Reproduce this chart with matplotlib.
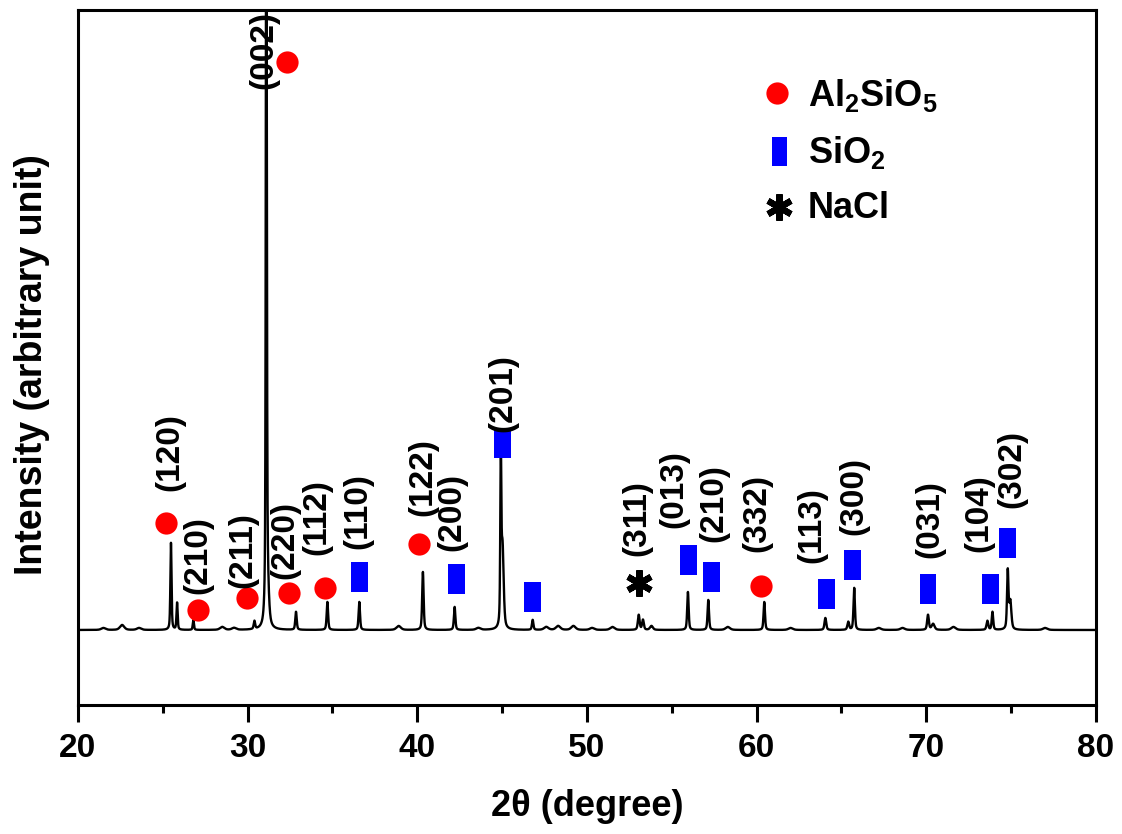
import numpy as np
import matplotlib
matplotlib.use('Agg')
import matplotlib.pyplot as plt
from matplotlib.patches import Rectangle
from matplotlib.ticker import MultipleLocator

plt.rcParams['font.family'] = ['Liberation Sans', 'DejaVu Sans']
plt.rcParams['font.weight'] = 'bold'
plt.rcParams['mathtext.fontset'] = 'custom'
plt.rcParams['mathtext.rm'] = 'Liberation Sans:bold'
plt.rcParams['mathtext.it'] = 'Liberation Sans:bold'
plt.rcParams['mathtext.bf'] = 'Liberation Sans:bold'

# ---- diffraction peaks (2theta, height above baseline, fwhm) ----
peak_pos = [21.5, 22.6, 23.6, 25.48, 25.84, 26.8, 28.5, 29.2, 30.4, 31.1, 31.15,
            32.85, 34.7, 36.58, 38.9, 40.33, 42.2, 43.6, 44.92, 45.02, 46.8,
            47.6, 48.3, 49.2, 50.3, 51.5, 53.05, 53.3, 53.8, 55.95, 57.15,
            58.3, 60.45, 62.0, 64.05, 65.4, 65.75, 67.2, 68.6, 70.1, 70.4,
            71.6, 73.6, 73.9, 74.8, 74.95, 77.0]
peak_height = [2, 5, 2, 87, 27, 10, 3, 2, 8, 800, 40,
               18, 28, 28, 4, 58, 23, 2, 163, 82, 10,
               3, 4, 4, 2, 3, 15, 10, 4, 38, 30,
               3, 28, 2, 12, 8, 42, 2, 2, 15, 6,
               3, 9, 18, 58, 28, 2]
peak_fwhm = [0.3, 0.3, 0.3, 0.08, 0.08, 0.08, 0.3, 0.3, 0.1, 0.07, 0.2,
             0.1, 0.1, 0.1, 0.3, 0.1, 0.1, 0.3, 0.07, 0.16, 0.1,
             0.3, 0.3, 0.3, 0.3, 0.3, 0.12, 0.12, 0.2, 0.1, 0.1,
             0.3, 0.1, 0.3, 0.12, 0.12, 0.1, 0.3, 0.3, 0.12, 0.2,
             0.3, 0.12, 0.1, 0.1, 0.15, 0.3]

# ---- phase markers ----
circle_x = [25.2, 27.07, 29.98, 32.41, 34.57, 32.3, 40.11, 60.25]
circle_y = [107, 20, 32, 37, 42, 568, 86, 44]
square_x = [36.6, 42.31, 45.03, 46.77, 55.97, 57.34, 64.12, 65.63, 70.1, 73.8, 74.76]
square_y = [53, 51, 187, 33, 70, 53, 36, 65, 41, 41, 87]
star_x = [53.08]
star_y = [47]

# ---- Miller index labels ----
label_text = ['(120)', '(210)', '(211)', '(220)', '(112)', '(110)', '(002)', '(122)',
              '(200)', '(201)', '(311)', '(013)', '(210)', '(332)', '(113)', '(300)',
              '(031)', '(104)', '(302)']
label_x = [25.42, 27.07, 29.72, 32.2, 34.1, 36.5, 30.96, 40.3,
           42.04, 45.04, 52.94, 55.12, 57.48, 60.0, 63.25, 65.73,
           70.2, 73.1, 75.04]
label_y = [178, 75, 80, 90, 113, 119, 580, 153,
           118, 237, 112, 141, 127, 117, 105, 134,
           111, 117, 161]

legend_labels = ['Al$_2$SiO$_5$', 'SiO$_2$', 'NaCl']
x_ticks = [20, 30, 40, 50, 60, 70, 80]

# ---- build the pattern ----
x = np.linspace(20, 80, 12001)
y = np.zeros_like(x)
for p, h, w in zip(peak_pos, peak_height, peak_fwhm):
    d = (x - p) / (w / 2.0)
    y += h * (0.5 / (1 + d ** 2) + 0.5 * np.exp(-np.log(2) * d ** 2))

fig = plt.figure(figsize=(11.22, 8.34), dpi=100)
ax = fig.add_axes([0.0695, 0.1547, 0.9073, 0.8333])
ax.plot(x, y, color='black', lw=1.7, zorder=2)

ax.plot(circle_x, circle_y, 'o', color='#ff0000', ms=16, mec='none', zorder=3)
for sx, sy in zip(square_x, square_y):
    ax.add_patch(Rectangle((sx - 0.5, sy - 15), 1.0, 30, facecolor='#0000ff',
                           edgecolor='none', zorder=3))
ax.plot(star_x, star_y, marker=(6, 2, 0), ms=19, mew=4.5, color='black',
        ls='none', zorder=3)

for t, lx, ly in zip(label_text, label_x, label_y):
    ax.text(lx, ly, t, rotation=90, ha='center', va='center', fontsize=24,
            fontweight='bold', zorder=4)

# legend (manual)
tr = ax.transAxes
ax.plot([0.687], [0.880], 'o', color='#ff0000', ms=16, mec='none', transform=tr)
ax.add_patch(Rectangle((0.689 - 0.0074, 0.796 - 0.0209), 0.0148, 0.0418,
                       facecolor='#0000ff', edgecolor='none', transform=tr))
ax.plot([0.689], [0.717], marker=(6, 2, 0), ms=19, mew=4.5, color='black',
        transform=tr)
ax.text(0.717, 0.862, legend_labels[0], transform=tr, fontsize=26, va='baseline')
ax.text(0.717, 0.780, legend_labels[1], transform=tr, fontsize=26, va='baseline')
ax.text(0.717, 0.700, legend_labels[2], transform=tr, fontsize=26, va='baseline')

ax.set_xlim(20, 80)
ax.set_ylim(-75, 620)
ax.set_xticks(x_ticks)
ax.xaxis.set_minor_locator(MultipleLocator(5))
ax.set_yticks([])
ax.tick_params(axis='x', which='major', direction='out', length=12, width=2.2,
               pad=8, labelsize=24)
ax.tick_params(axis='x', which='minor', direction='out', length=6, width=2.2)
for lab in ax.get_xticklabels():
    lab.set_fontweight('bold')
for s in ax.spines.values():
    s.set_linewidth(2.2)

fig.text(32 / 1122, 1 - 365 / 834, 'Intensity (arbitrary unit)', rotation=90,
         ha='center', va='center', fontsize=27, fontweight='bold')
fig.text(587 / 1122, 1 - 806 / 834, '2θ (degree)', ha='center', va='center',
         fontsize=26, fontweight='bold')

fig.savefig('out.png', dpi=100)
